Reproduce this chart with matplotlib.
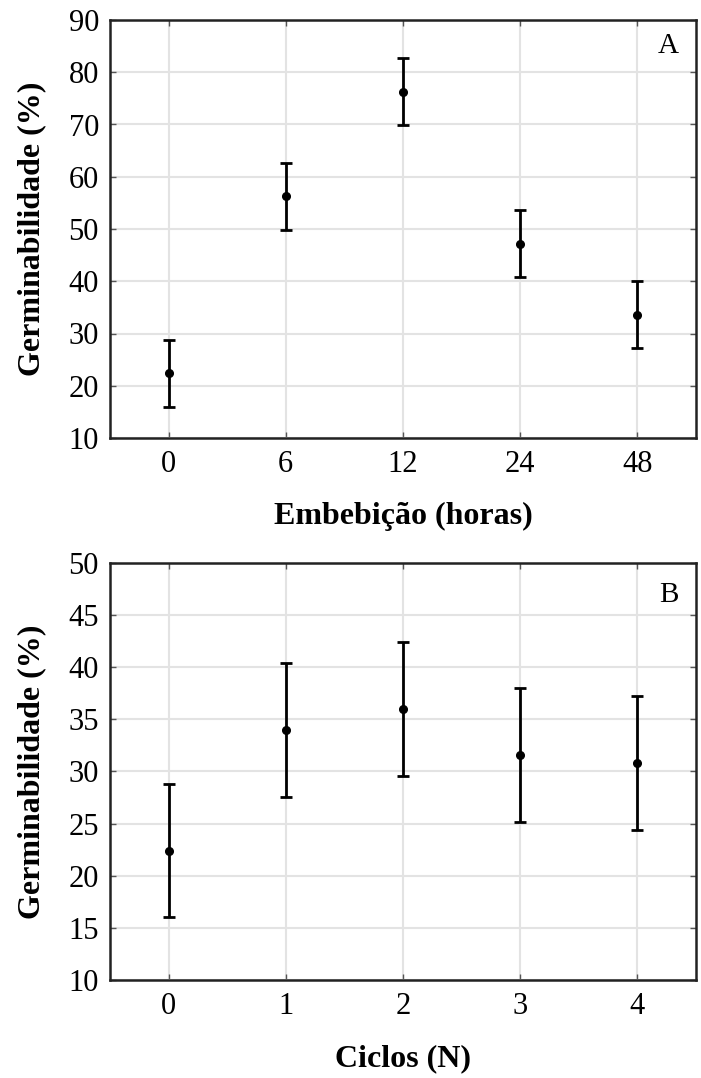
import numpy as np
import matplotlib
matplotlib.use("Agg")
import matplotlib.pyplot as plt

plt.rcParams['font.family'] = ['Liberation Serif', 'DejaVu Serif']

# panel A: imbibition time
horas = ['0', '6', '12', '24', '48']
germ_a = [22.4, 56.3, 76.3, 47.2, 33.6]
err_a = [6.4, 6.4, 6.4, 6.4, 6.4]

# panel B: hydration cycles
ciclos = ['0', '1', '2', '3', '4']
germ_b = [22.4, 34.0, 36.0, 31.6, 30.8]
err_b = [6.4, 6.4, 6.4, 6.4, 6.4]

fig = plt.figure(figsize=(7.01, 10.78), dpi=100)
W, H = 701, 1078
ax_a = fig.add_axes([110 / W, 1 - 438 / H, 586 / W, 418 / H])
ax_b = fig.add_axes([110 / W, 1 - 980 / H, 586 / W, 417 / H])


def draw(ax, labels, vals, errs, ylim, step, xlabel, tag, tag_y):
    x = np.arange(len(labels))
    ax.errorbar(x, vals, yerr=errs, fmt='o', color='black', ms=5.5,
                elinewidth=2, capsize=4.5, capthick=2, zorder=3)
    ax.set_xlim(-0.5, len(labels) - 0.5)
    ax.set_ylim(*ylim)
    ax.set_yticks(np.arange(ylim[0], ylim[1] + 0.1, step))
    ax.set_xticks(x)
    ax.set_xticklabels(labels)
    ax.grid(True, color='#e3e3e3', lw=1.5, zorder=0)
    ax.tick_params(direction='in', length=4, width=1, color='#555555',
                   top=True, right=True, labelsize=22)
    ax.tick_params(axis='x', pad=9)
    ax.tick_params(axis='y', pad=8)
    for s in ax.spines.values():
        s.set_linewidth(1.8)
        s.set_color('#222222')
    ax.set_ylabel('Germinabilidade (%)', fontsize=23, fontweight='bold', labelpad=16)
    ax.set_xlabel(xlabel, fontsize=23, fontweight='bold', labelpad=16)
    ax.text(0.971, tag_y, tag, transform=ax.transAxes, ha='right', va='top', fontsize=21)


draw(ax_a, horas, germ_a, err_a, (10, 90), 10, 'Embebição (horas)', 'A', 0.97)
draw(ax_b, ciclos, germ_b, err_b, (10, 50), 5, 'Ciclos (N)', 'B', 0.955)

fig.savefig('out.png', dpi=100)
